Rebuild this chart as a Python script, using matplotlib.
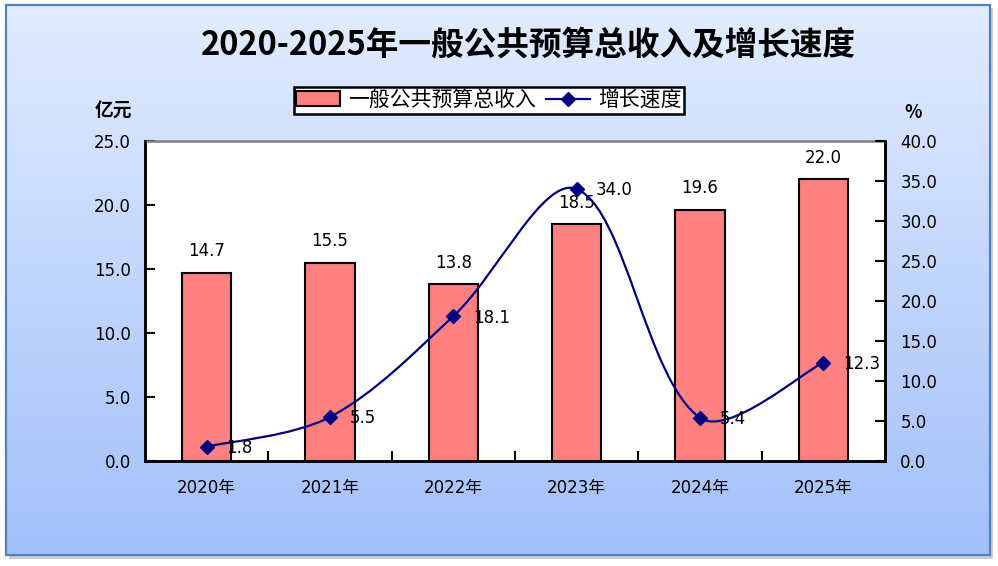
import numpy as np
import matplotlib
matplotlib.use("Agg")
import matplotlib.pyplot as plt
from matplotlib.patches import Rectangle, Patch, PathPatch
from matplotlib.lines import Line2D
from matplotlib.path import Path

plt.rcParams['font.family'] = ['DejaVu Sans', 'Noto Sans CJK SC']

years = ['2020年', '2021年', '2022年', '2023年', '2024年', '2025年']
revenue = [14.7, 15.5, 13.8, 18.5, 19.6, 22.0]
growth = [1.8, 5.5, 18.1, 34.0, 5.4, 12.3]
title = '2020-2025年一般公共预算总收入及增长速度'
bar_name = '一般公共预算总收入'
line_name = '增长速度'

W, H = 998, 566
fig = plt.figure(figsize=(W / 100, H / 100), dpi=100)

# background
bg = fig.add_axes([0, 0, 1, 1])
bg.set_xlim(0, W)
bg.set_ylim(H, 0)
bg.axis('off')
bg.add_patch(Rectangle((9, 8), 984, 551, facecolor='#C9CCD2', edgecolor='none', zorder=0))
grad = np.linspace(0, 1, 256).reshape(-1, 1)
top = np.array([0xE2, 0xEC, 0xFF]) / 255
bot = np.array([0xA2, 0xC0, 0xFA]) / 255
img = top[None, None, :] * (1 - grad[:, :, None]) + bot[None, None, :] * grad[:, :, None]
bg.imshow(img, extent=(6, 990, 555, 5), aspect='auto', zorder=1)
bg.add_patch(Rectangle((6, 5), 984, 550, facecolor='none', edgecolor='#4F81BD', lw=1.6, zorder=2))

# main axes
L, R, T, B = 145, 885, 141, 461
ax = fig.add_axes([L / W, 1 - B / H, (R - L) / W, (B - T) / H])
ax.set_facecolor('white')
x = np.arange(len(years))
bars = ax.bar(x, revenue, width=0.4, color='#FF8080', edgecolor='black', linewidth=1.5, zorder=2)
ax.set_xlim(-0.5, len(years) - 0.5)
ax.set_ylim(0, 25)
ax.set_yticks(np.arange(0, 25.1, 5))
ax.set_yticklabels([f'{v:.1f}' for v in np.arange(0, 25.1, 5)])
ax.set_xticks(np.arange(0.5, len(years) - 0.5, 1))
ax.set_xticklabels([])
ax.set_xticks(x, minor=True)
ax.set_xticklabels(years, minor=True)
ax.tick_params(axis='x', which='major', direction='in', length=7, width=1.5)
ax.tick_params(axis='x', which='minor', length=0, pad=13, labelsize=12)
ax.tick_params(axis='y', direction='in', length=7, width=1.5, pad=10, labelsize=12)
for s in ['left', 'bottom', 'right']:
    ax.spines[s].set_linewidth(1.8)
    ax.spines[s].set_color('black')
ax.spines['top'].set_color('#808080')
ax.spines['top'].set_linewidth(1.8)

for xi, v in zip(x, revenue):
    ax.annotate(f'{v:.1f}', (xi, v), xytext=(0, 12), textcoords='offset points',
                ha='center', va='baseline', fontsize=12)

ax2 = ax.twinx()
ax2.set_ylim(0, 40)
ax2.set_yticks(np.arange(0, 40.1, 5))
ax2.set_yticklabels([f'{v:.1f}' for v in np.arange(0, 40.1, 5)])
ax2.tick_params(axis='y', direction='in', length=7, width=1.5, pad=11, labelsize=12)
for s in ['left', 'bottom', 'right']:
    ax2.spines[s].set_linewidth(1.8)
    ax2.spines[s].set_color('black')
ax2.spines['top'].set_visible(False)

# smooth curve through the growth points (Bezier, Excel-like smoothing)
navy = '#000080'
P = ax2.transData.transform(np.column_stack([x, growth]))
n = len(P)
verts = [P[0]]
codes = [Path.MOVETO]
for i in range(n - 1):
    p0, p1 = P[i], P[i + 1]
    pm = P[i - 1] if i > 0 else P[i]
    p2 = P[i + 2] if i + 2 < n else P[i + 1]
    L01 = np.linalg.norm(p1 - p0)
    Lm0 = np.linalg.norm(p0 - pm) if i > 0 else L01
    L12 = np.linalg.norm(p2 - p1) if i + 2 < n else L01
    c1 = p0 + (p1 - pm if i > 0 else p1 - p0) / 3 * L01 / (Lm0 + L01)
    c2 = p1 - (p2 - p0 if i + 2 < n else p1 - p0) / 3 * L01 / (L01 + L12)
    verts += [c1, c2, p1]
    codes += [Path.CURVE4] * 3
verts = ax2.transData.inverted().transform(np.array(verts))
ax2.add_patch(PathPatch(Path(verts, codes), facecolor='none', edgecolor=navy, lw=1.6, zorder=3))
ax2.plot(x, growth, linestyle='none', marker='D', markersize=7, color=navy, zorder=4)
for xi, v in zip(x, growth):
    ax2.annotate(f'{v:.1f}', (xi, v), xytext=(14, -1), textcoords='offset points',
                 ha='left', va='center', fontsize=12)

# title and axis unit labels
fig.text(528 / W, 1 - 45 / H, title, ha='center', va='center', fontsize=23.5,
         fontweight='bold', family=['Noto Sans CJK SC', 'DejaVu Sans'])
fig.text(113 / W, 1 - 110 / H, '亿元', ha='center', va='center', fontsize=13.5,
         fontweight='bold', family=['Noto Sans CJK SC', 'DejaVu Sans'])
fig.text(913 / W, 1 - 113 / H, '%', ha='center', va='center', fontsize=13,
         fontweight='bold', family=['Noto Sans CJK SC', 'DejaVu Sans'])

# legend
handles = [Patch(facecolor='#FF8080', edgecolor='black', linewidth=1.5),
           Line2D([0], [0], color=navy, lw=1.6, marker='D', markersize=7)]
leg = fig.legend(handles, [bar_name, line_name], loc='center',
                 bbox_to_anchor=(489 / W, 1 - 100 / H), ncol=2, frameon=True,
                 fancybox=False, shadow=False, handlelength=2.1, handleheight=0.7,
                 handletextpad=0.4, columnspacing=0.5, borderpad=0.12, borderaxespad=0,
                 prop={'family': ['Noto Sans CJK SC', 'DejaVu Sans'], 'size': 15})
leg.get_frame().set_edgecolor('black')
leg.get_frame().set_linewidth(1.8)
leg.get_frame().set_facecolor('white')
leg.get_frame().set_alpha(1)

fig.savefig('out.png', dpi=100)
